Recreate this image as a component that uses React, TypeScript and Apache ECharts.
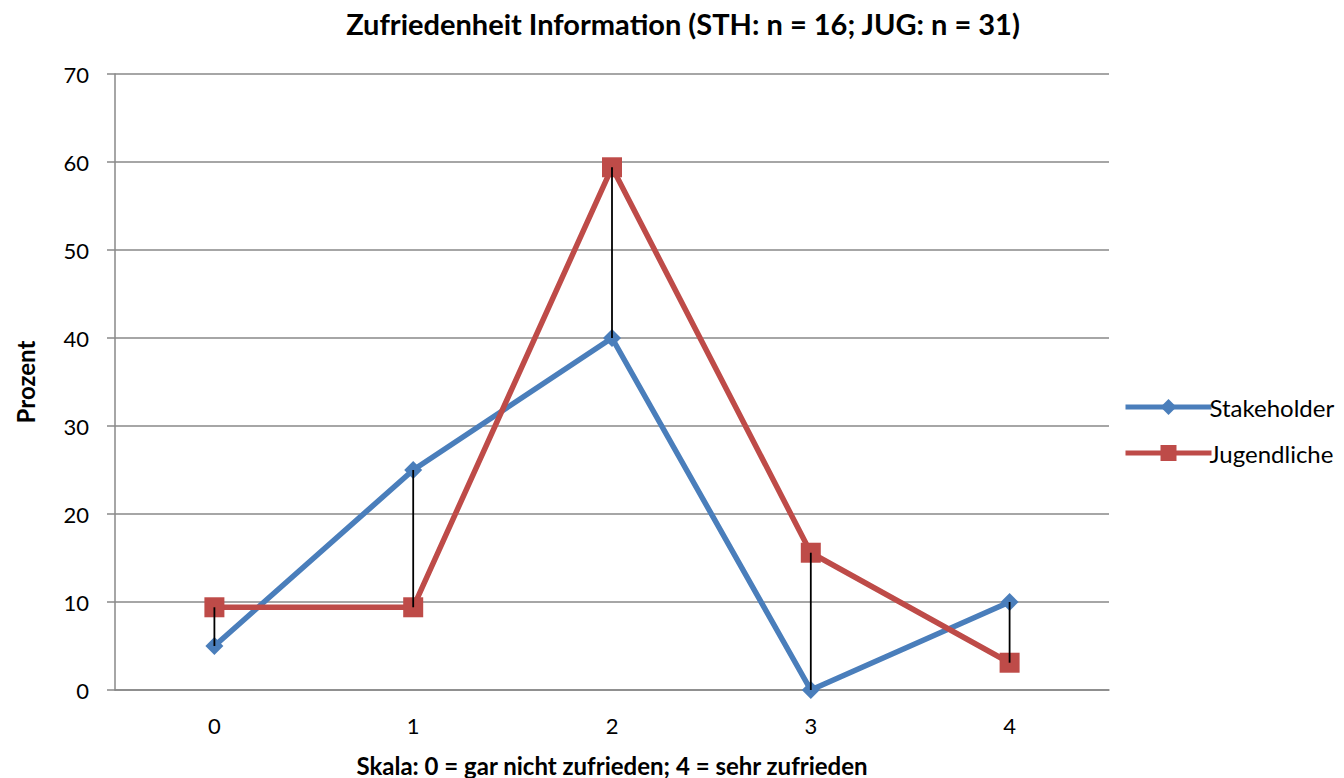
import React, { useEffect, useRef } from "react";
import * as echarts from "echarts";

const categories = ["0", "1", "2", "3", "4"];
const stakeholder = [5, 25, 40, 0, 10];
const jugendliche = [9.4, 9.4, 59.4, 15.6, 3.1];
const yTicks = { min: 0, max: 70, interval: 10 };

const FONT = "Lato, 'Open Sans', sans-serif";

export default function App() {
  const ref = useRef<HTMLDivElement>(null);
  useEffect(() => {
    if (!ref.current) return;
    const chart = echarts.init(ref.current, null, { renderer: "svg" });
    const hiLo = categories.map((_, i) => [i, stakeholder[i], jugendliche[i]]);
    chart.setOption({
      animation: false,
      backgroundColor: "#fff",
      textStyle: { fontFamily: FONT },
      title: {
        text: "Zufriedenheit Information (STH: n = 16; JUG: n = 31)",
        left: 678,
        textAlign: "center",
        top: 4,
        textStyle: { fontSize: 29, fontWeight: "bold", color: "#000", fontFamily: FONT },
      },
      grid: { left: 115, right: 235, top: 74, bottom: 88, containLabel: false, outerBoundsMode: "none" },
      legend: {
        data: ["Stakeholder", "Jugendliche"],
        orient: "vertical",
        left: 1118,
        top: 390,
        itemWidth: 86,
        itemHeight: 20,
        itemGap: 22,
        lineStyle: { width: 5 },
        textStyle: { fontSize: 24, color: "#000", fontFamily: FONT, padding: [0, 0, 0, -7] },
      },
      xAxis: {
        type: "category",
        data: categories,
        boundaryGap: true,
        name: "Skala: 0 = gar nicht zufrieden; 4 = sehr zufrieden",
        nameLocation: "middle",
        nameGap: 63,
        nameTextStyle: { fontSize: 24, fontWeight: "bold", color: "#000", fontFamily: FONT },
        axisLine: { lineStyle: { color: "#888", width: 1.5 } },
        axisTick: { show: false },
        axisLabel: { fontSize: 22, color: "#000", margin: 24, fontFamily: FONT },
        splitLine: { show: false },
      },
      yAxis: {
        type: "value",
        min: yTicks.min,
        max: yTicks.max,
        interval: yTicks.interval,
        name: "Prozent",
        nameLocation: "middle",
        nameGap: 78,
        nameRotate: 90,
        nameTextStyle: { fontSize: 24, fontWeight: "bold", color: "#000", fontFamily: FONT },
        axisLine: { show: true, lineStyle: { color: "#888", width: 1.5 } },
        axisTick: { show: true, length: 8, lineStyle: { color: "#888", width: 1.5 } },
        axisLabel: { fontSize: 22, color: "#000", margin: 26, fontFamily: FONT },
        splitLine: { lineStyle: { color: "#888", width: 1.5 } },
      },
      series: [
        {
          name: "Stakeholder",
          type: "line",
          data: stakeholder,
          symbol: "diamond",
          symbolSize: 18,
          lineStyle: { color: "#4A7EBB", width: 5.5 },
          itemStyle: { color: "#4A7EBB" },
          z: 3,
        },
        {
          name: "Jugendliche",
          type: "line",
          data: jugendliche,
          symbol: "rect",
          symbolSize: 20,
          lineStyle: { color: "#BE4B48", width: 5.5 },
          itemStyle: { color: "#BE4B48" },
          z: 4,
        },
        {
          name: "hilo",
          type: "custom",
          data: hiLo,
          z: 10,
          silent: true,
          renderItem: (params: any, api: any) => {
            const p1 = api.coord([api.value(0), api.value(1)]);
            const p2 = api.coord([api.value(0), api.value(2)]);
            return {
              type: "line",
              shape: { x1: p1[0], y1: p1[1], x2: p2[0], y2: p2[1] },
              style: { stroke: "#000", lineWidth: 1.8 },
            };
          },
        },
      ],
    });
    return () => chart.dispose();
  }, []);
  return <div ref={ref} style={{ width: 1344, height: 778, position: "absolute", left: 0, top: 0 }} />;
}
